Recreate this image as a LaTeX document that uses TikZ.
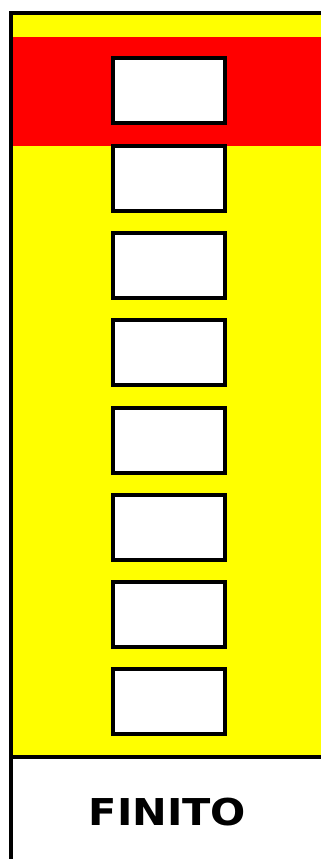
\documentclass[tikz,border=0pt]{standalone}
\usepackage{fontspec}
\newfontfamily\labelfont{DejaVu Sans}
\definecolor{pureyellow}{RGB}{255,255,0}
\definecolor{purered}{RGB}{255,0,0}
\tikzset{
  cell/.style={draw=black, fill=white, line width=4pt, minimum width=112pt, minimum height=65pt, inner sep=0pt, outer sep=0pt},
  frameline/.style={draw=black, line width=3.5pt},
}
\begin{document}
\begin{tikzpicture}[x=1pt,y=-1pt]
\useasboundingbox (0,0) rectangle (321,859);
\fill[white] (0,0) rectangle (321,859);
% yellow area and red band
\fill[pureyellow] (11,13) rectangle (321,757);
\fill[purered] (11,37) rectangle (321,146);
% frame
\draw[frameline] (11,859) -- (11,13) -- (321,13);
\draw[frameline, line width=4.5pt] (11,757) -- (321,757);
% boxes
\node[cell] (b0) at (169,90.5) {};
\foreach \k in {1,...,7} {
  \node[cell] (b\k) at (169,{144+87.17*(\k-1)+34.5}) {};
}
\node[font=\labelfont\bfseries\fontsize{37}{37}\selectfont, xscale=1.12, inner sep=0pt] (fin) at (167.5,812) {FINITO};
\end{tikzpicture}
\end{document}
